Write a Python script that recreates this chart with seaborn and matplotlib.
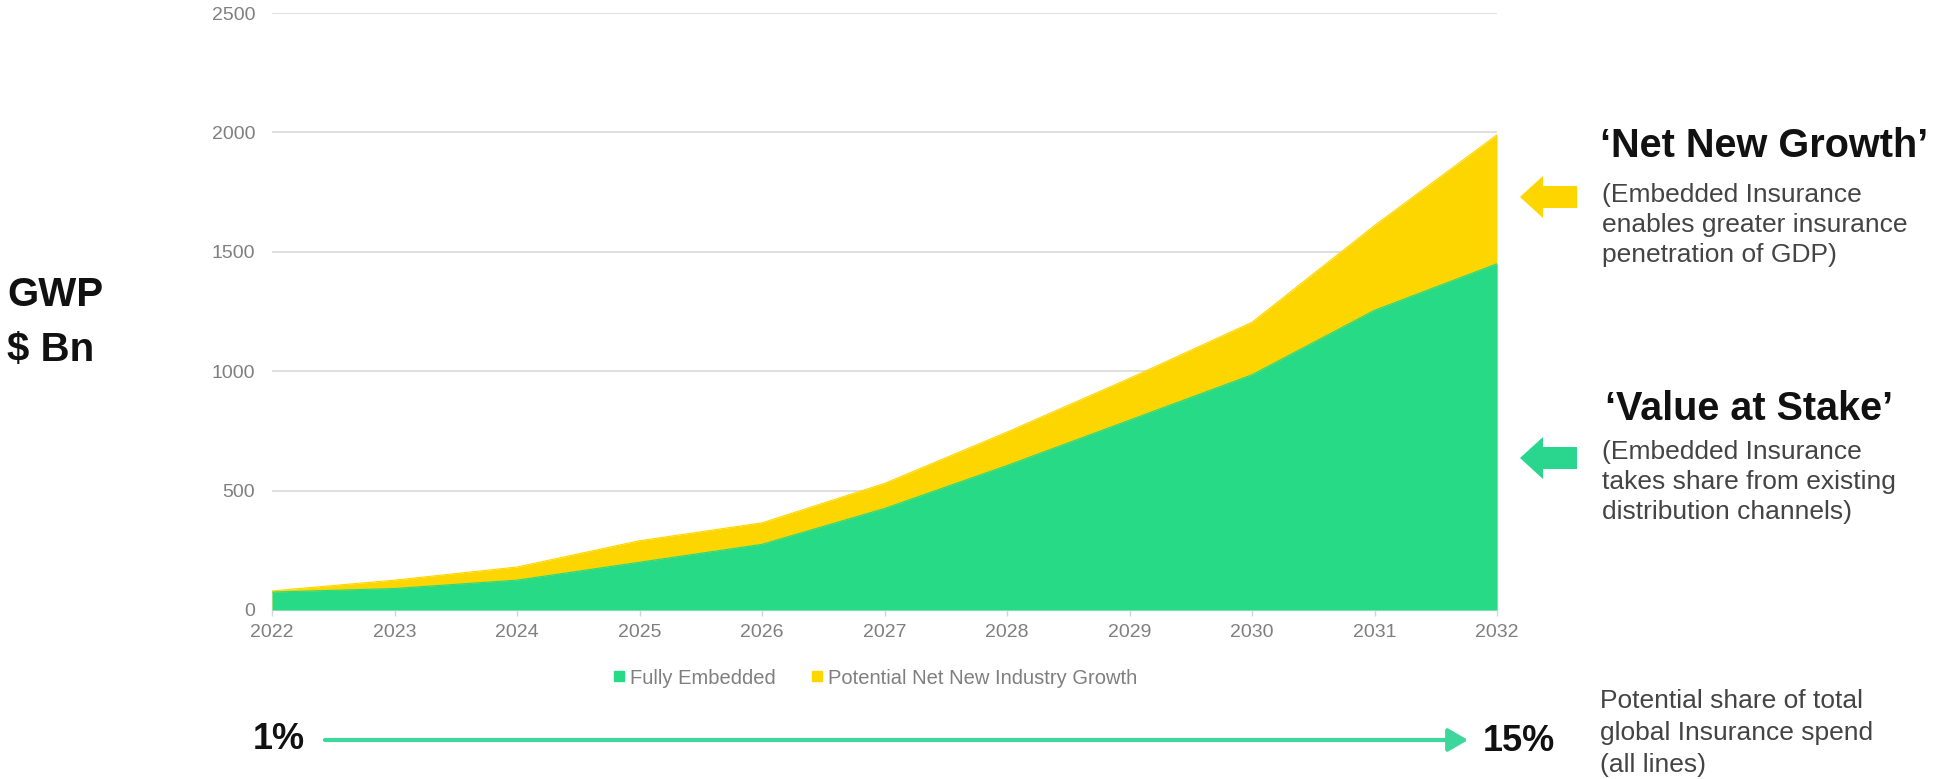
import matplotlib
matplotlib.use("Agg")
import matplotlib.pyplot as plt
import matplotlib.patches as mpatches
import matplotlib.transforms as mtransforms
from matplotlib.lines import Line2D
import pandas as pd
import seaborn as sns

# Gross written premium ($ Bn) by year
years = [2022, 2023, 2024, 2025, 2026, 2027, 2028, 2029, 2030, 2031, 2032]
fully_embedded = [75, 90, 125, 200, 275, 425, 605, 795, 985, 1255, 1450]
net_new_growth = [5, 35, 55, 90, 90, 105, 140, 175, 220, 355, 540]

series_names = ["Fully Embedded", "Potential Net New Industry Growth"]
series_colors = ["#26DA86", "#FDD600"]
gwp_ticks = [0, 500, 1000, 1500, 2000, 2500]

share_start = "1%"
share_end = "15%"

sns.set_theme(style="whitegrid")
plt.rcParams["font.family"] = ["Liberation Sans", "DejaVu Sans"]

W, H = 1942, 779
fig = plt.figure(figsize=(W / 100, H / 100), dpi=100)
fig.patch.set_facecolor("white")
ax = fig.add_axes([272 / W, 1 - 610 / H, (1497 - 272) / W, (610 - 13) / H])
ax.set_facecolor("white")

df = pd.DataFrame({
    "year": years,
    series_names[0]: fully_embedded,
    series_names[1]: net_new_growth,
})
df["total"] = df[series_names[0]] + df[series_names[1]]

# stacked areas: total (yellow) underneath, fully embedded (green) on top
ax.fill_between(df["year"], 0, df["total"], color=series_colors[1], lw=0, zorder=2)
ax.fill_between(df["year"], 0, df[series_names[0]], color=series_colors[0], lw=0, zorder=3)
sns.lineplot(data=df, x="year", y="total", ax=ax, color=series_colors[1], lw=0.8, zorder=2)
sns.lineplot(data=df, x="year", y=series_names[0], ax=ax, color=series_colors[0], lw=0.8, zorder=3)

ax.set_xlim(years[0], years[-1])
ax.set_ylim(gwp_ticks[0], gwp_ticks[-1])
ax.set_xticks(years)
ax.set_yticks(gwp_ticks)
ax.set_xlabel("")
ax.set_ylabel("")
ax.grid(axis="y", color="#dcdcdc", lw=1.3)
ax.grid(axis="x", visible=False)
ax.set_axisbelow(True)
for side in ["left", "right", "top"]:
    ax.spines[side].set_visible(False)
ax.spines["bottom"].set_color("#e2e2e2")
ax.spines["bottom"].set_linewidth(1.0)
ax.tick_params(axis="x", length=4, width=1, color="#d6d6d6", pad=6,
               labelsize=14, labelcolor="#7f7f7f", bottom=True)
ax.tick_params(axis="y", length=0, pad=12, labelsize=14, labelcolor="#7f7f7f")

# legend under the x axis
handles = [Line2D([], [], marker="s", ls="", color=c, markersize=7) for c in series_colors]
fig.legend(handles, series_names, loc="center", bbox_to_anchor=(876 / W, 1 - 678 / H),
           ncol=2, frameon=False, fontsize=14.5, labelcolor="#7f7f7f",
           handlelength=0.5, handletextpad=0.3, columnspacing=1.8)

# pixel coordinates measured from the top-left corner
px = mtransforms.Affine2D().scale(1 / W, -1 / H).translate(0, 1) + fig.transFigure

def ftext(x, y, s, **kw):
    fig.text(x, y, s, transform=px, **kw)

ftext(7, 295, "GWP", fontsize=29, fontweight="bold", color="#111111", va="center")
ftext(7, 350, "$ Bn", fontsize=29, fontweight="bold", color="#111111", va="center")

ftext(1600, 146, "\u2018Net New Growth\u2019", fontsize=28.5, fontweight="bold",
      color="#111111", va="center")
ftext(1602, 225, "(Embedded Insurance\nenables greater insurance\npenetration of GDP)",
      fontsize=19, color="#444444", va="center", linespacing=1.34)

ftext(1605, 409, "\u2018Value at Stake\u2019", fontsize=28.5, fontweight="bold",
      color="#111111", va="center")
ftext(1602, 482, "(Embedded Insurance\ntakes share from existing\ndistribution channels)",
      fontsize=19, color="#444444", va="center", linespacing=1.34)

# block arrows pointing at the two areas
for yc, col in [(197, series_colors[1]), (458, "#2AD68E")]:
    fig.add_artist(mpatches.FancyArrow(1577, yc, -57, 0, width=22, head_width=42,
                                       head_length=23, length_includes_head=True,
                                       color=col, lw=0, transform=px))

# share progression along the bottom
ftext(253, 740, share_start, fontsize=26, fontweight="bold", color="#111111", va="center")
ftext(1483, 742, share_end, fontsize=26, fontweight="bold", color="#111111", va="center")
fig.add_artist(mpatches.FancyArrowPatch((325, 740), (1468, 740), transform=px,
                                        arrowstyle="-|>,head_length=0.6,head_width=0.35",
                                        mutation_scale=20, color="#3DD69B", lw=3,
                                        shrinkA=0, shrinkB=0))
ftext(1600, 733, "Potential share of total\nglobal Insurance spend\n(all lines)",
      fontsize=19, color="#444444", va="center", linespacing=1.42)

fig.savefig("out.png", dpi=100, facecolor="white")
